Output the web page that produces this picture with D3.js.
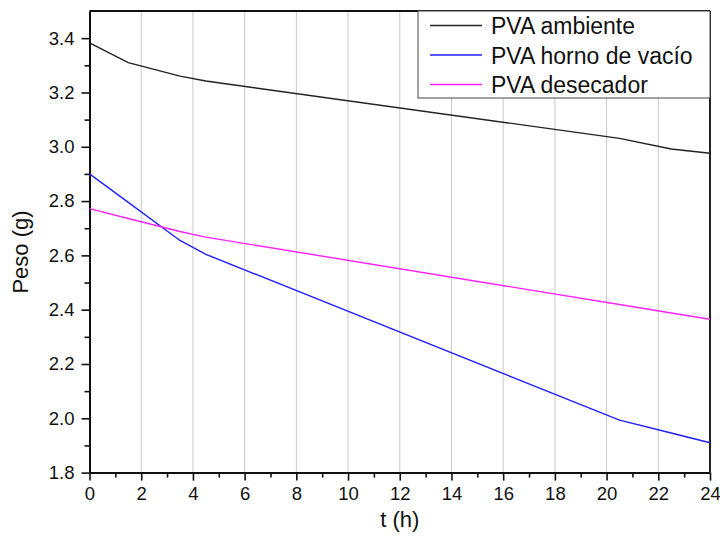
<!DOCTYPE html>
<html>
<head>
<meta charset="utf-8">
<script src="https://cdn.jsdelivr.net/npm/d3@7"></script>
<style>
  body { margin: 0; background: #fff; }
  svg { font-family: "Liberation Sans", Arial, sans-serif; }
</style>
</head>
<body>
<svg id="chart" width="720" height="536"></svg>
<script>
// measurement times (h)
var tiempos = [0, 1.5, 3.5, 4.5, 20.5, 22.5, 24];

// weights (g) per condition
var ambiente = [3.383, 3.310, 3.260, 3.242, 3.031, 2.992, 2.976];
var hornoVacio = [2.900, 2.795, 2.655, 2.604, 1.993, 1.946, 1.910];
var desecador = [2.772, 2.736, 2.688, 2.667, 2.419, 2.388, 2.365];

var nombres = ["PVA ambiente", "PVA horno de vacío", "PVA desecador"];
var colores = ["#222222", "#2020ff", "#ff20ff"];

var xTicks = [0, 2, 4, 6, 8, 10, 12, 14, 16, 18, 20, 22, 24];
var yTicks = [1.8, 2.0, 2.2, 2.4, 2.6, 2.8, 3.0, 3.2, 3.4];

var svg = d3.select("#chart"),
    margin = { top: 11, right: 10, bottom: 63.4, left: 89.5 },
    width = +svg.attr("width") - margin.left - margin.right,
    height = +svg.attr("height") - margin.top - margin.bottom,
    g = svg.append("g").attr("transform", "translate(" + margin.left + "," + margin.top + ")");

var x = d3.scaleLinear().domain([0, 24]).range([0, width]);
var y = d3.scaleLinear().domain([1.8, 3.5]).range([height, 0]);

// vertical grid
g.append("g")
    .selectAll("line")
    .data(xTicks.slice(1, -1))
    .enter().append("line")
    .attr("x1", function(d) { return x(d); })
    .attr("x2", function(d) { return x(d); })
    .attr("y1", 0)
    .attr("y2", height)
    .attr("stroke", "#c8c8c8")
    .attr("stroke-width", 1);

// minor ticks
var xMinor = d3.range(1, 24, 2);
var yMinor = d3.range(1.9, 3.5, 0.2);

g.append("g")
    .attr("transform", "translate(0," + height + ")")
    .call(d3.axisBottom(x).tickValues(xMinor).tickSize(5).tickFormat(""))
    .call(function(a) { a.select(".domain").remove(); })
    .selectAll("line").attr("stroke-width", 1.6).attr("stroke", "#111");

g.append("g")
    .call(d3.axisLeft(y).tickValues(yMinor).tickSize(5).tickFormat(""))
    .call(function(a) { a.select(".domain").remove(); })
    .selectAll("line").attr("stroke-width", 1.6).attr("stroke", "#111");

// major axes
var xAxis = g.append("g")
    .attr("transform", "translate(0," + height + ")")
    .call(d3.axisBottom(x).tickValues(xTicks).tickSize(8).tickPadding(6).tickSizeOuter(0).tickFormat(d3.format("d")));

var yAxis = g.append("g")
    .call(d3.axisLeft(y).tickValues(yTicks).tickSize(8).tickPadding(7).tickSizeOuter(0).tickFormat(d3.format(".1f")));

[xAxis, yAxis].forEach(function(a) {
    a.select(".domain").attr("stroke", "#111").attr("stroke-width", 2);
    a.selectAll(".tick line").attr("stroke", "#111").attr("stroke-width", 1.6);
    a.selectAll(".tick text")
        .attr("fill", "#111")
        .style("font-size", "18.5px")
        .style("font-family", "'Liberation Sans', Arial, sans-serif");
});

// top and right border
g.append("line").attr("x1", 0).attr("x2", width).attr("y1", 0).attr("y2", 0)
    .attr("stroke", "#111").attr("stroke-width", 2);
g.append("line").attr("x1", width).attr("x2", width).attr("y1", 0).attr("y2", height)
    .attr("stroke", "#222").attr("stroke-width", 2);

// lines
var series = [ambiente, hornoVacio, desecador];
var line = d3.line()
    .x(function(d, i) { return x(tiempos[i]); })
    .y(function(d) { return y(d); });

series.forEach(function(s, i) {
    g.append("path")
        .datum(s)
        .attr("fill", "none")
        .attr("stroke", colores[i])
        .attr("stroke-width", 1.4)
        .attr("d", line);
});

// legend
var legW = 292, legH = 87;
var leg = g.append("g").attr("transform", "translate(" + (width - legW) + ",0)");
leg.append("rect")
    .attr("width", legW).attr("height", legH)
    .attr("fill", "#fff").attr("stroke", "#444").attr("stroke-width", 1);

nombres.forEach(function(n, i) {
    var yy = 14.5 + i * 29.5;
    leg.append("line")
        .attr("x1", 12).attr("x2", 64)
        .attr("y1", yy).attr("y2", yy)
        .attr("stroke", colores[i]).attr("stroke-width", 1.4);
    leg.append("text")
        .attr("x", 73).attr("y", yy + 8.5)
        .attr("fill", "#111")
        .style("font-size", "23px")
        .text(n);
});

// axis titles
svg.append("text")
    .attr("x", margin.left + width / 2)
    .attr("y", 527)
    .attr("text-anchor", "middle")
    .attr("fill", "#111")
    .style("font-size", "22px")
    .text("t (h)");

svg.append("text")
    .attr("transform", "translate(28,252) rotate(-90)")
    .attr("text-anchor", "middle")
    .attr("fill", "#111")
    .style("font-size", "22px")
    .text("Peso (g)");
</script>
</body>
</html>
